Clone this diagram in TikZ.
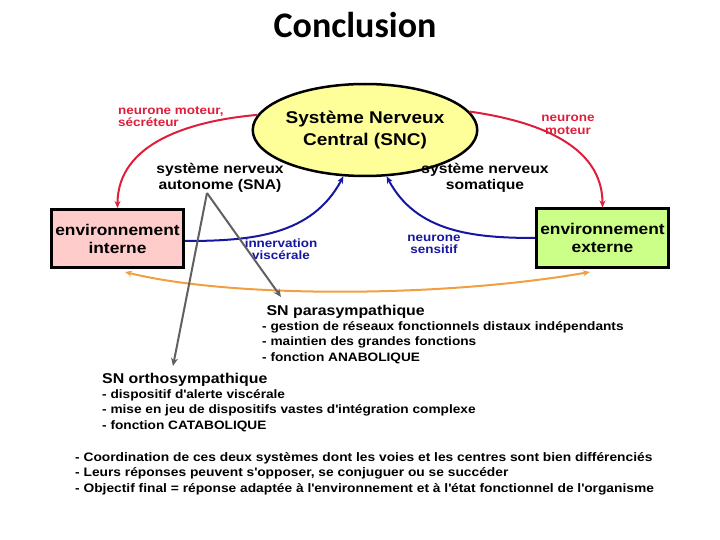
\documentclass[tikz,border=0pt]{standalone}
\usepackage{fontspec}
\setmainfont{Liberation Sans}[FakeStretch=1.12]
\newfontfamily\titlefont{Carlito}
\usetikzlibrary{arrows.meta,shapes.geometric}
\definecolor{cred}{HTML}{DD1F3C}
\definecolor{cblue}{HTML}{1616A0}
\definecolor{corange}{HTML}{F0A040}
\definecolor{cgray}{HTML}{606060}
\definecolor{cyel}{HTML}{FFFF99}
\definecolor{cpink}{HTML}{FFCCCC}
\definecolor{cgreen}{HTML}{CCFF88}
\newcommand\apo{\textquotesingle}
\tikzset{
  envbox/.style={draw=black,line width=3pt,minimum width=132pt,minimum height=58pt,align=center,font=\fontsize{15.5}{18}\selectfont\bfseries,inner sep=0pt},
  redarrow/.style={draw=cred,line width=2pt,-{Stealth[length=7pt,width=6pt]}},
  bluearrow/.style={draw=cblue,line width=2pt,-{Stealth[length=7pt,width=6pt]}},
  orangearrow/.style={draw=corange,line width=2pt,{Stealth[length=7pt,width=6pt]}-{Stealth[length=7pt,width=6pt]}},
  grayarrow/.style={draw=cgray,line width=2pt,-{Stealth[length=8pt,width=7pt]}},
  redlbl/.style={text=cred,font=\fontsize{12}{12.5}\selectfont\bfseries,inner sep=0pt},
  bluelbl/.style={text=cblue,font=\fontsize{12}{12}\selectfont\bfseries,inner sep=0pt,align=center},
  blacklbl/.style={font=\fontsize{14}{16}\selectfont\bfseries,inner sep=0pt,align=center},
  listtxt/.style={font=\fontsize{12.2}{15.2}\selectfont\bfseries,inner sep=0pt,align=left,anchor=north west},
}
\begin{document}
\begin{tikzpicture}[x=1pt,y=-1pt]
\useasboundingbox (0,0) rectangle (720,540);
\node[font=\titlefont\fontsize{36}{38}\selectfont\bfseries,inner sep=0pt] (title) at (355,25) {Conclusion};
% SNC ellipse
\node[ellipse,draw=black,line width=2.5pt,fill=cyel,minimum width=178pt,minimum height=92pt,inner sep=0pt,align=center,font=\fontsize{17}{22}\selectfont\bfseries] (snc) at (365,130) {Système Nerveux\\Central (SNC)};
% environment boxes
\node[envbox,fill=cpink] (envint) at (117.5,238.5) {environnement\\interne};
\node[envbox,fill=cgreen] (envext) at (602.5,238) {environnement\\externe};
% red arrows
\draw[redarrow] (snc.172) to[out=185,in=90] (envint.north);
\draw[redarrow] (snc.10) to[out=-8,in=90] (envext.north);
\node[redlbl,align=left,anchor=north west] (rl) at (118,106) {neurone moteur,\\sécréteur};
\node[redlbl,align=center] (rr) at (568,125) {neurone\\moteur};
% blue arrows
\draw[bluearrow] (envint.east |- 0,241) to[out=0,in=-118] (snc.-115);
\draw[bluearrow] (envext.west |- 0,238) to[out=180,in=-62] (snc.-65);
\node[bluelbl] (innerv) at (281,249) {innervation\\viscérale};
\node[bluelbl] (sensit) at (434,244) {neurone\\sensitif};
% labels
\node[blacklbl] (sna) at (220,178) {système nerveux\\autonome (SNA)};
\node[blacklbl] (soma) at (485,178) {système nerveux\\somatique};
% orange arrow
\coordinate (oL) at (125,272);
\coordinate (oR) at (590,272);
\draw[orangearrow] (oL) .. controls (230,298) and (440,298) .. (oR);
% text blocks
\node[listtxt] (para) at (262,305) {\fontsize{14.2}{16}\selectfont\ SN parasympathique\\- gestion de réseaux fonctionnels distaux indépendants\\- maintien des grandes fonctions\\- fonction ANABOLIQUE};
\node[listtxt] (ortho) at (102,373) {\fontsize{14.2}{16}\selectfont SN orthosympathique\\- dispositif d\apo alerte viscérale\\- mise en jeu de dispositifs vastes d\apo intégration complexe\\- fonction CATABOLIQUE};
\node[listtxt,font=\fontsize{12.3}{15.5}\selectfont\bfseries] (concl) at (75,452) {- Coordination de ces deux systèmes dont les voies et les centres sont bien différenciés\\- Leurs réponses peuvent s\apo opposer, se conjuguer ou se succéder\\- Objectif final = réponse adaptée à l\apo environnement et à l\apo état fonctionnel de l\apo organisme};
% gray arrows
\coordinate (gtop) at (207,193);
\coordinate (gortho) at (173,366);
\coordinate (gpara) at (281,297);
\draw[grayarrow] (gtop) -- (gortho);
\draw[grayarrow] (gtop) -- (gpara);
\end{tikzpicture}
\end{document}
